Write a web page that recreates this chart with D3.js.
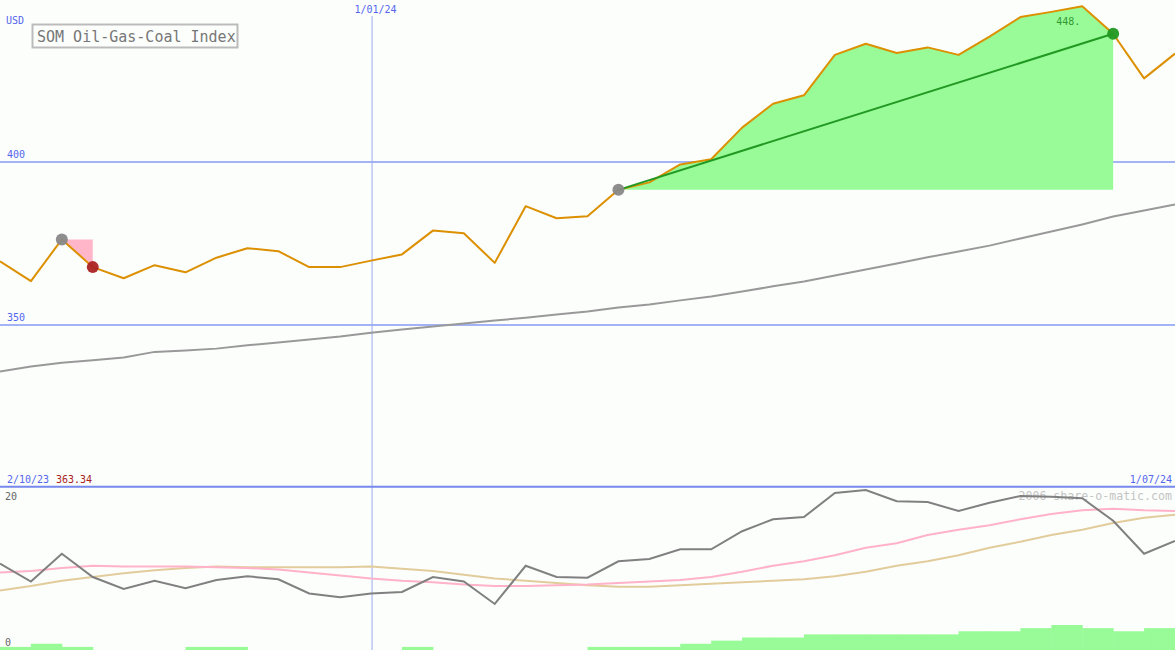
<!DOCTYPE html>
<html>
<head>
<meta charset="utf-8">
<script src="https://cdn.jsdelivr.net/npm/d3@7"></script>
<style>
html,body{margin:0;padding:0;background:#fcfefc;}
svg{display:block;}
text{font-family:"DejaVu Sans Mono","Liberation Mono",monospace;}
</style>
</head>
<body>
<svg id="chart" width="1175" height="650"></svg>
<script>
// ---- data (weekly points, index 0..38) ----
const price = [369.4, 363.3, 376.1, 367.6, 364.2, 368.2, 366.0, 370.5, 373.4, 372.5,
  367.6, 367.6, 369.6, 371.5, 378.8, 378.0, 368.9, 386.3, 382.6, 383.2,
  391.3, 393.6, 399.1, 400.7, 410.4, 417.7, 420.3, 432.7, 436.1, 433.3,
  435.0, 432.7, 438.3, 444.3, 445.9, 447.6, 439.2, 425.5, 433.1];
const movingAvg = [335.6, 337.1, 338.3, 339.0, 339.9, 341.6, 342.0, 342.6, 343.6, 344.5,
  345.4, 346.3, 347.5, 348.5, 349.4, 350.3, 351.2, 352.1, 353.1, 354.0,
  355.2, 356.1, 357.4, 358.6, 360.1, 361.7, 363.2, 365.0, 366.9, 368.7,
  370.6, 372.4, 374.2, 376.4, 378.5, 380.7, 383.1, 385.0, 386.8];
const oscGray = [11.0, 8.6, 12.3, 9.2, 7.6, 8.7, 7.7, 8.8, 9.3, 8.9,
  7.0, 6.5, 7.0, 7.2, 9.2, 8.6, 5.6, 10.7, 9.2, 9.1,
  11.3, 11.6, 12.9, 12.9, 15.3, 16.9, 17.2, 20.4, 20.8, 19.3,
  19.2, 18.0, 19.1, 20.0, 19.9, 19.7, 16.7, 12.3, 14.0];
const oscPink = [9.8, 10.0, 10.4, 10.7, 10.6, 10.6, 10.6, 10.5, 10.4, 10.2,
  9.8, 9.4, 9.0, 8.7, 8.5, 8.2, 8.0, 8.0, 8.1, 8.2,
  8.4, 8.6, 8.8, 9.2, 9.9, 10.7, 11.3, 12.1, 13.1, 13.7,
  14.8, 15.5, 16.1, 16.9, 17.6, 18.1, 18.3, 18.1, 18.0];
const oscTan = [7.4, 8.0, 8.7, 9.2, 9.7, 10.1, 10.4, 10.6, 10.5, 10.5,
  10.5, 10.5, 10.6, 10.3, 10.0, 9.5, 9.0, 8.7, 8.4, 8.1,
  7.9, 7.9, 8.1, 8.3, 8.5, 8.7, 8.9, 9.3, 9.9, 10.7,
  11.3, 12.1, 13.1, 13.9, 14.8, 15.5, 16.4, 17.1, 17.5];
const volume = [1, 2, 1, 0, 0, 0, 1, 1, 0, 0,
  0, 0, 0, 1, 0, 0, 0, 0, 0, 1,
  1, 1, 2, 3, 4, 4, 5, 5, 5, 5,
  5, 6, 6, 7, 8, 7, 6, 7, 7];
const priceTicks = [350, 400];
const oscTicks = [0, 20];
const dateGridIndex = [12];
const dateGridLabels = ["1/01/24"];
const startLabel = "2/10/23";
const startValue = "363.34";
const endLabel = "1/07/24";
const peakLabel = "448.";
const sellSignal = [2, 3];   // gray marker -> red marker
const buySignal = [20, 36];  // gray marker -> green marker

// ---- layout ----
const W = 1175, H = 650;
const svg = d3.select("#chart");
const x = d3.scaleLinear().domain([0, price.length - 1]).range([0, W]);
const y = d3.scaleLinear().domain([350, 400]).range([324.5, 161.5]);
const y2 = d3.scaleLinear().domain([0, 20]).range([646, 496]);
const yv = d3.scaleLinear().domain([0, 8]).range([650, 625]);
const step = x(1) - x(0);

const blue = "#5566ee";

// background
svg.append("rect").attr("width", W).attr("height", H).attr("fill", "#fcfefc");

// horizontal price gridlines via axis
const gy = svg.append("g").attr("transform", "translate(0,0)")
  .call(d3.axisRight(y).tickValues(priceTicks).tickSize(W).tickFormat(d3.format("d")));
gy.select(".domain").remove();
gy.selectAll(".tick line").attr("stroke", "#a3b3f5").attr("stroke-width", 2);
gy.selectAll(".tick text").attr("x", 7).attr("dy", -4).attr("text-anchor", "start")
  .attr("fill", blue).attr("font-size", 10)
  .attr("font-family", "DejaVu Sans Mono, monospace");

// vertical date gridline(s)
const gx = svg.append("g").attr("transform", "translate(0,16)")
  .call(d3.axisTop(x).tickValues(dateGridIndex).tickSize(-(H - 16))
    .tickFormat((d, i) => dateGridLabels[i]));
gx.select(".domain").remove();
gx.selectAll(".tick line").attr("stroke", "#99aaee").attr("stroke-width", 1)
  .attr("transform", "translate(0.5,0)");
gx.selectAll(".tick text").attr("y", -3).attr("dx", 4).attr("fill", blue)
  .attr("font-size", 10).attr("font-family", "DejaVu Sans Mono, monospace");

// labels
svg.append("text").attr("x", 6).attr("y", 24).attr("fill", blue).attr("font-size", 10).text("USD");

// title box
svg.append("rect").attr("x", 32.5).attr("y", 24.5).attr("width", 205).attr("height", 23)
  .attr("fill", "#fcfefc").attr("stroke", "#bbbbbb").attr("stroke-width", 2);
svg.append("text").attr("x", 37).attr("y", 41.5).attr("fill", "#777").attr("font-size", 15)
  .text("SOM Oil-Gas-Coal Index");

// moving average
svg.append("path").datum(movingAvg)
  .attr("d", d3.line().x((d, i) => x(i)).y(d => y(d)))
  .attr("fill", "none").attr("stroke", "#999").attr("stroke-width", 2);

// buy zone area
const [b0, b1] = buySignal;
const areaPts = [];
for (let i = b0; i <= b1; i++) areaPts.push([x(i), y(price[i])]);
areaPts.push([x(b1), y(price[b0])]);
svg.append("path").attr("d", d3.line()(areaPts) + "Z").attr("fill", "#98fb98");

// sell triangle
const [s0, s1] = sellSignal;
const triPts = [[x(s0), y(price[s0])], [x(s1), y(price[s0])], [x(s1), y(price[s1])]];
svg.append("path").attr("d", d3.line()(triPts) + "Z").attr("fill", "#ffb6c8");

// price line
svg.append("path").datum(price)
  .attr("d", d3.line().x((d, i) => x(i)).y(d => y(d)))
  .attr("fill", "none").attr("stroke", "#dc9000").attr("stroke-width", 2)
  .attr("stroke-linejoin", "round");

// trend line
svg.append("line").attr("x1", x(b0)).attr("y1", y(price[b0]))
  .attr("x2", x(b1)).attr("y2", y(price[b1]))
  .attr("stroke", "#229922").attr("stroke-width", 2);

// markers
const marker = (i, c) => svg.append("circle").attr("cx", x(i)).attr("cy", y(price[i]))
  .attr("r", 6).attr("fill", c).attr("fill-opacity", 0.95);
marker(s0, "#888888");
marker(s1, "#aa2222");
marker(b0, "#888888");
marker(b1, "#229922");

// peak label
const pk = d3.maxIndex(price);
svg.append("text").attr("x", x(pk) - 2).attr("y", 25).attr("text-anchor", "end")
  .attr("fill", "#339933").attr("font-size", 10).text(peakLabel);

// panel separator
svg.append("line").attr("x1", 0).attr("x2", W).attr("y1", 486.7).attr("y2", 486.7)
  .attr("stroke", "#7788ee").attr("stroke-width", 2);
svg.append("text").attr("x", 7).attr("y", 483).attr("fill", blue).attr("font-size", 10).text(startLabel);
svg.append("text").attr("x", 56).attr("y", 483).attr("fill", "#aa2222").attr("font-size", 10).text(startValue);
svg.append("text").attr("x", 1172).attr("y", 483).attr("text-anchor", "end")
  .attr("fill", blue).attr("font-size", 10).text(endLabel);

// volume bars
svg.append("g").selectAll("rect").data(volume).join("rect")
  .attr("x", (d, i) => x(i)).attr("width", step + 0.5)
  .attr("y", d => yv(d)).attr("height", d => yv(0) - yv(d))
  .attr("fill", "#98fb98");

// oscillator axis labels
const go = svg.append("g").call(d3.axisRight(y2).tickValues(oscTicks).tickSize(0));
go.select(".domain").remove();
go.selectAll(".tick text").attr("x", 5).attr("dy", 0).attr("y", 0)
  .attr("transform", d => d === 0 ? "translate(0,-1)" : "translate(0,3)")
  .attr("text-anchor", "start").attr("fill", "#666").attr("font-size", 10)
  .attr("font-family", "DejaVu Sans Mono, monospace");

// watermark
svg.append("text").attr("x", 1172).attr("y", 499.5).attr("text-anchor", "end")
  .attr("fill", "#c4c4c4").attr("font-size", 11.6).text("2006 share-o-matic.com");

// oscillator lines
const oLine = d3.line().x((d, i) => x(i)).y(d => y2(d));
svg.append("path").datum(oscTan).attr("d", oLine).attr("fill", "none")
  .attr("stroke", "#e2cc9c").attr("stroke-width", 2);
svg.append("path").datum(oscPink).attr("d", oLine).attr("fill", "none")
  .attr("stroke", "#ffb2c8").attr("stroke-width", 2);
svg.append("path").datum(oscGray).attr("d", oLine).attr("fill", "none")
  .attr("stroke", "#808080").attr("stroke-width", 2);
</script>
</body>
</html>
